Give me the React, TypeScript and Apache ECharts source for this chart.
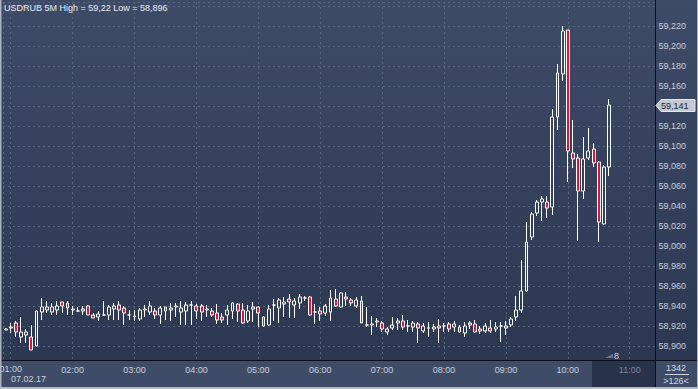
import React, { useEffect, useRef } from 'react';
import * as echarts from 'echarts';

const times = [
  '00:55',
  '01:00','01:05','01:10','01:15','01:20','01:25','01:30','01:35','01:40','01:45','01:50','01:55',
  '02:00','02:05','02:10','02:15','02:20','02:25','02:30','02:35','02:40','02:45','02:50','02:55',
  '03:00','03:05','03:10','03:15','03:20','03:25','03:30','03:35','03:40','03:45','03:50','03:55',
  '04:00','04:05','04:10','04:15','04:20','04:25','04:30','04:35','04:40','04:45','04:50','04:55',
  '05:00','05:05','05:10','05:15','05:20','05:25','05:30','05:35','05:40','05:45','05:50','05:55',
  '06:00','06:05','06:10','06:15','06:20','06:25','06:30','06:35','06:40','06:45','06:50','06:55',
  '07:00','07:05','07:10','07:15','07:20','07:25','07:30','07:35','07:40','07:45','07:50','07:55',
  '08:00','08:05','08:10','08:15','08:20','08:25','08:30','08:35','08:40','08:45','08:50','08:55',
  '09:00','09:05','09:10','09:15','09:20','09:25','09:30','09:35','09:40','09:45','09:50','09:55',
  '10:00','10:05','10:10','10:15','10:20','10:25','10:30','10:35','10:40',
];

const opens = [
  58.917,58.918,58.923,58.909,58.911,58.909,58.900,58.934,58.936,58.934,
  58.936,58.944,58.943,58.936,58.935,58.935,58.940,58.931,58.929,58.931,
  58.931,58.937,58.941,58.938,58.931,58.929,58.927,58.936,58.934,58.935,
  58.931,58.939,58.936,58.939,58.934,58.935,58.941,58.940,58.940,58.936,
  58.935,58.933,58.929,58.931,58.935,58.942,58.936,58.925,58.937,58.939,
  58.929,58.921,58.941,58.938,58.942,58.947,58.941,58.943,58.948,58.949,
  58.934,58.935,58.933,58.934,58.947,58.939,58.949,58.946,58.940,58.945,
  58.921,58.921,58.924,58.923,58.914,58.918,58.923,58.925,58.920,58.919,
  58.922,58.915,58.918,58.917,58.920,58.920,58.922,58.919,58.919,58.913,
  58.923,58.922,58.917,58.915,58.918,58.917,58.920,58.918,58.921,58.929,
  58.936,58.955,59.009,59.033,59.044,59.044,59.039,59.129,59.172,59.216,
  59.093,59.088,59.055,59.088,59.097,59.084,59.022,59.079,
];

const closes = [
  58.916,58.919,58.914,58.914,58.914,58.896,58.935,58.939,58.939,58.939,
  58.940,58.940,58.938,58.937,58.935,58.937,58.931,58.928,58.932,58.931,
  58.939,58.940,58.936,58.933,58.931,58.930,58.936,58.937,58.940,58.931,
  58.938,58.935,58.938,58.940,58.938,58.941,58.941,58.935,58.934,58.937,
  58.931,58.926,58.926,58.936,58.943,58.935,58.923,58.935,58.939,58.933,
  58.920,58.937,58.941,58.946,58.944,58.944,58.945,58.949,58.948,58.931,
  58.934,58.932,58.940,58.948,58.940,58.953,58.947,58.943,58.946,58.923,
  58.921,58.922,58.925,58.917,58.917,58.921,58.925,58.919,58.920,58.923,
  58.918,58.920,58.918,58.919,58.918,58.920,58.917,58.922,58.914,58.920,
  58.921,58.914,58.915,58.920,58.915,58.919,58.920,58.920,58.927,58.936,
  58.955,59.004,59.032,59.044,59.047,59.038,59.129,59.173,59.215,59.095,
  59.087,59.055,59.087,59.095,59.083,59.024,59.079,59.141,
];

const lows = [
  58.916,58.913,58.909,58.903,58.903,58.896,58.900,58.926,58.933,58.931,
  58.931,58.933,58.931,58.931,58.934,58.931,58.931,58.928,58.925,58.930,
  58.926,58.926,58.926,58.921,58.926,58.925,58.925,58.929,58.931,58.927,
  58.922,58.926,58.925,58.929,58.921,58.921,58.921,58.927,58.925,58.929,
  58.929,58.922,58.923,58.921,58.927,58.924,58.922,58.923,58.924,58.919,
  58.919,58.920,58.925,58.923,58.929,58.928,58.928,58.937,58.945,58.930,
  58.922,58.925,58.930,58.925,58.939,58.938,58.940,58.940,58.938,58.923,
  58.919,58.911,58.919,58.914,58.911,58.916,58.916,58.916,58.914,58.914,
  58.903,58.913,58.909,58.914,58.903,58.914,58.914,58.914,58.913,58.909,
  58.917,58.913,58.912,58.913,58.913,58.914,58.904,58.911,58.919,58.925,
  58.933,58.954,59.006,59.030,59.025,59.028,59.031,59.116,59.165,59.064,
  59.078,59.005,59.047,59.086,59.079,59.004,59.021,59.070,
];

const highs = [
  58.918,58.923,58.925,58.929,58.917,58.921,58.936,58.948,58.945,58.943,
  58.945,58.944,58.945,58.940,58.939,58.940,58.941,58.933,58.935,58.945,
  58.941,58.943,58.945,58.940,58.936,58.936,58.938,58.941,58.945,58.938,
  58.940,58.939,58.943,58.943,58.945,58.944,58.945,58.942,58.942,58.941,
  58.938,58.942,58.933,58.941,58.944,58.943,58.943,58.941,58.944,58.940,
  58.930,58.941,58.947,58.948,58.949,58.952,58.948,58.952,58.950,58.950,
  58.942,58.939,58.942,58.956,58.957,58.954,58.954,58.948,58.949,58.950,
  58.939,58.930,58.928,58.925,58.919,58.929,58.928,58.931,58.926,58.925,
  58.924,58.923,58.924,58.922,58.927,58.923,58.924,58.925,58.921,58.924,
  58.925,58.926,58.920,58.923,58.926,58.924,58.924,58.925,58.929,58.950,
  58.986,59.024,59.034,59.046,59.050,59.050,59.137,59.182,59.220,59.216,
  59.126,59.092,59.109,59.118,59.103,59.085,59.081,59.147,
];

const titleText = 'USDRUB 5M High = 59,22 Low = 58,896';
const dateLabel = '07.02.17';
const firstHourLabel = '01:00';
const barCountLabel = '1342';
const visibleBarsLabel = '>126<';
const markerLabel = '8';

const W = 698;
const H = 389;
const PLOT_LEFT = 1;
const PLOT_RIGHT = 655.5;
const PLOT_TOP = 2;
const PLOT_BOTTOM = 360;
const FONT = '"Liberation Sans", Arial, Helvetica, sans-serif';
const LABEL_COLOR = '#c9d1de';

function toMinutes(t: string): number {
  const [h, m] = t.split(':').map(Number);
  return h * 60 + m;
}

function fmtPrice(v: number): string {
  return v.toFixed(3).replace('.', ',');
}

function txt(id: string, x: number, y: number, text: string, fill: string, align: string = 'left') {
  return {
    id,
    type: 'text',
    x,
    y,
    z: 100,
    style: {
      text,
      fill,
      fontSize: 9,
      fontFamily: FONT,
      align,
      textAlign: align,
      verticalAlign: 'middle',
      textVerticalAlign: 'middle',
    },
  };
}

export default function App() {
  const ref = useRef<HTMLDivElement>(null);

  useEffect(() => {
    if (!ref.current) return;
    const chart = echarts.init(ref.current, null, { renderer: 'svg' });
    const data = times.map((t, i) => [toMinutes(t), opens[i], closes[i], lows[i], highs[i]]);
    const last = closes[closes.length - 1];
    const firstHour = toMinutes(firstHourLabel);

    chart.setOption({
      animation: false,
      backgroundColor: '#33405b',
      grid: {
        left: PLOT_LEFT,
        right: W - PLOT_RIGHT,
        top: PLOT_TOP,
        bottom: H - PLOT_BOTTOM,
        containLabel: false,
      },
      xAxis: {
        type: 'value',
        min: 52.5,
        max: 685,
        minInterval: 60,
        maxInterval: 60,
        axisLine: { show: false },
        axisTick: { show: false },
        splitLine: { show: true, lineStyle: { color: '#56647f', type: [2, 3], width: 1 } },
        axisLabel: {
          margin: 5,
          fontSize: 9,
          fontFamily: FONT,
          color: (v: any) => (Number(v) >= 650 ? '#7d879b' : LABEL_COLOR),
          formatter: (v: number) => {
            const m = Math.round(v);
            if (Math.abs(v - m) > 0.01 || m % 60 !== 0 || m === firstHour) return '';
            const h = m / 60;
            return (h < 10 ? '0' : '') + h + ':00';
          },
        },
      },
      yAxis: {
        type: 'value',
        position: 'right',
        min: 58.886,
        max: 59.244,
        minInterval: 0.02,
        maxInterval: 0.02,
        axisLine: { show: false },
        axisTick: { show: false },
        splitLine: { show: true, lineStyle: { color: '#56647f', type: [2, 3], width: 1 } },
        axisLabel: {
          margin: 3,
          fontSize: 9,
          fontFamily: FONT,
          color: LABEL_COLOR,
          formatter: (v: number) => {
            const r = Math.round(v * 1000);
            if (Math.abs(v * 1000 - r) > 0.01 || r % 20 !== 0 || r > 59225 || r < 58895) return '';
            if (Math.abs(r / 1000 - last) < 0.009) return '';
            return fmtPrice(r / 1000);
          },
        },
      },
      series: [
        {
          type: 'candlestick',
          data,
          barWidth: 3.4,
          itemStyle: {
            color: 'rgba(0,0,0,0)',
            color0: '#e2123f',
            borderColor: '#ffffff',
            borderColor0: '#ffffff',
            borderColorDoji: '#ffffff',
            borderWidth: 1,
          },
        },
      ],
    });

    const ty = Math.round(chart.convertToPixel({ yAxisIndex: 0 }, last) as number) + 0.5;
    const hx = chart.convertToPixel({ xAxisIndex: 0 }, firstHour) as number;

    chart.setOption({
      graphic: [
        {
          id: 'bg',
          type: 'rect',
          z: -100,
          shape: { x: 0, y: 0, width: W, height: PLOT_BOTTOM },
          style: {
            fill: new echarts.graphic.LinearGradient(0, 0, 0, 1, [
              { offset: 0, color: '#3e4b67' },
              { offset: 1, color: '#2c3751' },
            ]),
          },
        },
        {
          id: 'bottomPanel',
          type: 'rect',
          z: -90,
          shape: { x: 0, y: PLOT_BOTTOM, width: W, height: H - PLOT_BOTTOM },
          style: { fill: '#3f4c67' },
        },
        {
          id: 'darkPanel',
          type: 'rect',
          z: -80,
          shape: { x: 592, y: PLOT_BOTTOM + 1, width: PLOT_RIGHT - 592, height: 26 },
          style: { fill: '#28324a' },
        },
        {
          id: 'vAxis',
          type: 'line',
          z: 100,
          shape: { x1: PLOT_RIGHT, y1: 0, x2: PLOT_RIGHT, y2: 387 },
          style: { stroke: '#0c0f17', lineWidth: 1 },
        },
        {
          id: 'hAxis',
          type: 'line',
          z: 100,
          shape: { x1: 0, y1: PLOT_BOTTOM + 0.5, x2: W, y2: PLOT_BOTTOM + 0.5 },
          style: { stroke: '#0c0f17', lineWidth: 1 },
        },
        txt('firstHour', hx, 369, firstHourLabel, LABEL_COLOR, 'center'),
        {
          id: 'frameL',
          type: 'rect',
          z: 110,
          shape: { x: 0, y: 0, width: 1.5, height: H },
          style: { fill: '#aeb4be' },
        },
        {
          id: 'frameB',
          type: 'rect',
          z: 110,
          shape: { x: 0, y: 387, width: W, height: 2 },
          style: { fill: '#b6bbc4' },
        },
        {
          id: 'frameR',
          type: 'rect',
          z: 110,
          shape: { x: 697, y: 0, width: 1, height: H },
          style: { fill: '#aeb4be' },
        },
        txt('title', 4, 8, titleText, '#e8ecf3'),
        txt('date', 11, 379, dateLabel, LABEL_COLOR),
        txt('bars', 676, 368, barCountLabel, '#d3d9e3', 'center'),
        {
          id: 'barsLine',
          type: 'line',
          z: 100,
          shape: { x1: 665, y1: 374.5, x2: 689, y2: 374.5 },
          style: { stroke: '#c9d1de', lineWidth: 1 },
        },
        txt('visible', 676, 381, visibleBarsLabel, '#d3d9e3', 'center'),
        {
          id: 'markTri',
          type: 'polygon',
          z: 100,
          shape: { points: [[605, 358], [613, 358], [613, 354]] },
          style: { fill: '#6b7487' },
        },
        txt('mark', 614, 355.5, markerLabel, '#d3d9e3'),
        {
          id: 'tag',
          type: 'polygon',
          z: 120,
          shape: {
            points: [
              [656, ty],
              [661, ty - 6],
              [695, ty - 6],
              [695, ty + 6],
              [661, ty + 6],
            ],
          },
          style: { fill: '#c4c8d0', stroke: '#e4e7ec', lineWidth: 1 },
        },
        { ...txt('tagText', 661, ty, fmtPrice(last), '#1b2130'), z: 130 },
      ],
    });

    return () => {
      chart.dispose();
    };
  }, []);

  return (
    <div
      ref={ref}
      style={{ position: 'fixed', left: 0, top: 0, width: W, height: H }}
    />
  );
}
